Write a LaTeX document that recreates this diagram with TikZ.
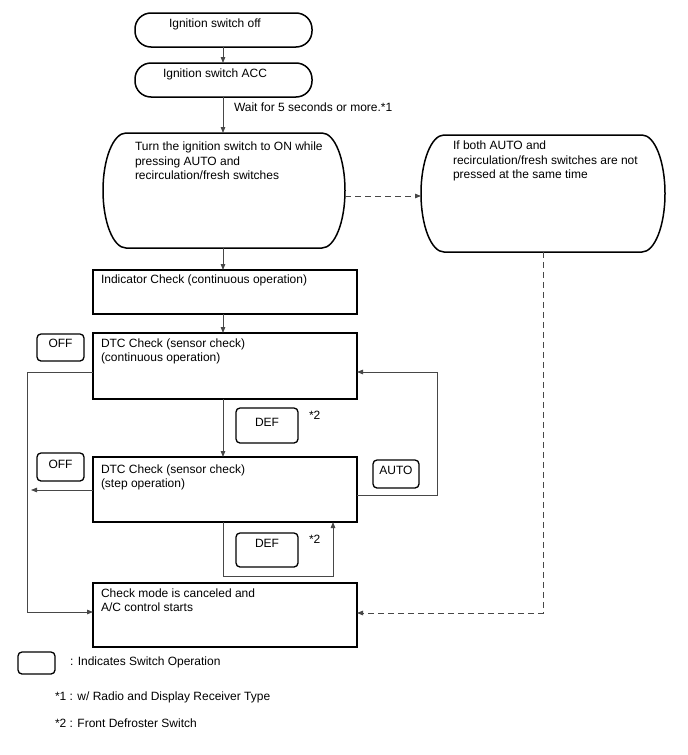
\documentclass[tikz,border=0pt]{standalone}
\usepackage{fontspec}
\setmainfont{Liberation Sans}
\usetikzlibrary{arrows.meta}
\begin{document}
\begin{tikzpicture}[x=1pt,y=-1pt,
  every node/.style={inner sep=0pt, outer sep=0pt, font=\fontsize{12}{14.5}\selectfont},
  frame/.style={draw, line width=1.5pt, anchor=north west},
  pill/.style={frame, rounded corners=16pt},
  hidden/.style={anchor=north west},
  capsule/.style={draw, line width=1.5pt},
  sw/.style={draw, line width=1.3pt, rounded corners=4pt, anchor=north west},
  txt/.style={anchor=base west},
  ctxt/.style={anchor=base},
  mtxt/.style={anchor=north west, align=left},
  conn/.style={draw=black!72, line width=0.8pt, -{Triangle[length=6pt,width=4.5pt]}},
  line/.style={draw=black!72, line width=0.8pt},
  dconn/.style={conn, dash pattern=on 6pt off 4pt},
  dline/.style={line, dash pattern=on 6pt off 4pt}
]
\useasboundingbox[fill=white] (0,0) rectangle (688,755);

% main boxes
\node[pill, minimum width=177pt, minimum height=34pt] (b1) at (135,13) {};
\node[pill, minimum width=177pt, minimum height=34pt] (b2) at (135,63) {};
\node[hidden, minimum width=242pt, minimum height=115pt] (b3) at (103,133) {};
\draw[capsule] ([xshift=23pt]b3.north west) -- ([xshift=-23pt]b3.north east)
  arc[start angle=90, end angle=-90, x radius=23pt, y radius=57.5pt]
  -- ([xshift=23pt]b3.south west)
  arc[start angle=270, end angle=90, x radius=23pt, y radius=57.5pt] -- cycle;
\node[hidden, minimum width=244pt, minimum height=117pt] (b4) at (421,135) {};
\draw[capsule] ([xshift=23pt]b4.north west) -- ([xshift=-23pt]b4.north east)
  arc[start angle=90, end angle=-90, x radius=23pt, y radius=58.5pt]
  -- ([xshift=23pt]b4.south west)
  arc[start angle=270, end angle=90, x radius=23pt, y radius=58.5pt] -- cycle;
\node[frame, minimum width=264pt, minimum height=44pt] (b5) at (93,270) {};
\node[frame, minimum width=264pt, minimum height=66pt] (b6) at (93,333) {};
\node[frame, minimum width=264pt, minimum height=65pt] (b7) at (93,457) {};
\node[frame, minimum width=264pt, minimum height=64pt] (b8) at (93,583) {};

% switch boxes
\node[sw, minimum width=47pt, minimum height=27pt] (off1) at (37,334) {};
\node[sw, minimum width=47pt, minimum height=28pt] (off2) at (37,453) {};
\node[sw, minimum width=62pt, minimum height=35pt] (def1) at (236,408) {};
\node[sw, minimum width=62pt, minimum height=34pt] (def2) at (236,533) {};
\node[sw, minimum width=46pt, minimum height=28pt] (auto) at (373,460) {};
\node[sw, minimum width=37pt, minimum height=22pt] (leg) at (18,652) {};

% texts
\node[txt] (t1) at (169,27.5) {Ignition switch off};
\node[txt] (t2) at (163,77) {Ignition switch ACC};
\node[txt] (tw) at (234,111) {Wait for 5 seconds or more.*1};
\node[mtxt] (t3) at (135,142.3) {Turn the ignition switch to ON while\\pressing AUTO and\\recirculation/fresh switches};
\node[mtxt] (t4) at (453,141.3) {If both AUTO and\\recirculation/fresh switches are not\\pressed at the same time};
\node[txt] (t5) at (101,283.3) {Indicator Check (continuous operation)};
\node[mtxt] (t6) at (101,338.5) {DTC Check (sensor check)\\(continuous operation)};
\node[mtxt] (t7) at (101,464.6) {DTC Check (sensor check)\\(step operation)};
\node[mtxt] (t8) at (101,588.6) {Check mode is canceled and\\A/C control starts};
\node[ctxt] (toff1) at (60.5,347.5) {OFF};
\node[ctxt] (toff2) at (60.5,468) {OFF};
\node[ctxt] (tdef1) at (267,426) {DEF};
\node[ctxt] (tdef2) at (267,547) {DEF};
\node[txt] (ts1) at (309,419) {*2};
\node[txt] (ts2) at (309,543) {*2};
\node[ctxt] (tauto) at (396,474) {AUTO};
\node[txt] (tleg) at (70,665) {: Indicates Switch Operation};
\node[txt] (n1) at (55,700) {*1 : w/ Radio and Display Receiver Type};
\node[txt] (n2) at (55,727) {*2 : Front Defroster Switch};

% connectors
\coordinate (cx) at (223,0);
\draw[conn] (b1.south -| cx) -- (b2.north -| cx);
\draw[conn] (b2.south -| cx) -- (b3.north -| cx);
\draw[conn] (b3.south -| cx) -- (b5.north -| cx);
\draw[conn] (b5.south -| cx) -- (b6.north -| cx);
\draw[conn] (b6.south -| cx) -- (b7.north -| cx);

\coordinate (pd) at (0,196);
\draw[dconn] (b3.east |- pd) -- (b4.west |- pd);
\coordinate (p9) at (543,613);
\draw[dconn] (b4.south -| p9) -- (p9) -- (b8.east |- p9);

\coordinate (p1) at (27,372);
\coordinate (p2) at (27,612);
\draw[conn] (b6.west |- p1) -- (p1) -- (p2) -- (b8.west |- p2);

\coordinate (p3) at (31,490);
\draw[conn] (b7.west |- p3) -- (p3);

\coordinate (p4) at (223,576);
\coordinate (p5) at (333,576);
\draw[conn] (b7.south -| cx) -- (p4) -- (p5) -- (p5 |- b7.south);

\coordinate (p6) at (437,495);
\coordinate (p7) at (437,372);
\draw[conn] (b7.east |- p6) -- (p6) -- (p7) -- (b6.east |- p7);
\end{tikzpicture}
\end{document}
